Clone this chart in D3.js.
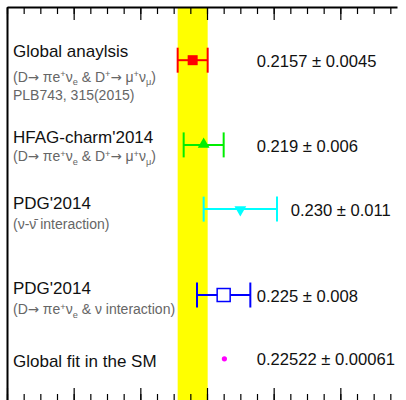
<!DOCTYPE html>
<html>
<head>
<meta charset="utf-8">
<script src="https://cdn.jsdelivr.net/npm/d3@7"></script>
<style>
  html, body { margin: 0; padding: 0; background: #fff; }
  svg { display: block; }
  text { font-family: "Liberation Sans", Arial, sans-serif; }
</style>
</head>
<body>
<svg id="chart" width="406" height="400"></svg>
<script>
// Measurements of |Vcd| compared with the Standard Model global fit
const titles = ["Global anaylsis", "HFAG-charm'2014", "PDG'2014", "PDG'2014", "Global fit in the SM"];
const centralValues = [0.2157, 0.219, 0.230, 0.225, 0.22522];
const errors = [0.0045, 0.006, 0.011, 0.008, 0.00061];
const valueLabels = ["0.2157", "0.219", "0.230", "0.225", "0.22522"];
const errorLabels = ["0.0045", "0.006", "0.011", "0.008", "0.00061"];
// vertical position of each measurement on the plot's y coordinate
const rowPositions = [8.65, 6.5, 4.87, 2.69, 1.07];
const colors = ["#ff0000", "#00ee00", "#00ffff", "#0000ff", "#ff00ff"];
const markers = ["square", "triangleUp", "triangleDown", "openSquare", "dot"];

const xDomain = [0.16, 0.277];
const majorTicks = [0.16, 0.18, 0.20, 0.22, 0.24, 0.26];
const minorTicks = d3.range(0, 24).map(i => +(0.16 + i * 0.005).toFixed(3));

const svg = d3.select("#chart");
const x = d3.scaleLinear().domain(xDomain).range([7, 397]);
const y = d3.scaleLinear().domain([0, 10]).range([401, 7]);

// reference band from the global analysis
const bandLo = centralValues[0] - errors[0], bandHi = centralValues[0] + errors[0];
svg.append("rect")
  .attr("x", x(bandLo)).attr("y", y(10))
  .attr("width", x(bandHi) - x(bandLo)).attr("height", y(0) - y(10))
  .attr("fill", "#ffff00");

// frame axes: ticks point into the plot
function drawAxis(axisFn, ypos, values, size) {
  const g = svg.append("g").attr("transform", `translate(0,${ypos})`)
    .call(axisFn(x).tickValues(values).tickSize(size).tickSizeOuter(0).tickFormat(""));
  g.selectAll(".tick line").attr("stroke", "#000").attr("stroke-width", 1.2);
  return g;
}
const topMinor = drawAxis(d3.axisBottom, y(10), minorTicks, 7);
topMinor.select(".domain").attr("stroke", "#000").attr("stroke-width", 2);
drawAxis(d3.axisBottom, y(10), majorTicks, 13).select(".domain").remove();
const botMinor = drawAxis(d3.axisTop, y(0), minorTicks, 7);
botMinor.select(".domain").attr("stroke", "#000").attr("stroke-width", 2);
drawAxis(d3.axisTop, y(0), majorTicks, 13).select(".domain").remove();

svg.append("g").attr("transform", `translate(${x(xDomain[0])},0)`)
  .call(d3.axisRight(y).tickValues([]).tickSizeOuter(0))
  .select(".domain").attr("stroke", "#000").attr("stroke-width", 2);

// error bars and markers
const capHalf = 12.5;
centralValues.forEach((v, i) => {
  const cy = y(rowPositions[i]);
  const c = colors[i];
  const g = svg.append("g");
  if (markers[i] !== "dot") {
    const x0 = x(v - errors[i]), x1 = x(v + errors[i]);
    g.append("line").attr("x1", x0).attr("x2", x1).attr("y1", cy).attr("y2", cy)
      .attr("stroke", c).attr("stroke-width", 2);
    [x0, x1].forEach(xx => g.append("line").attr("x1", xx).attr("x2", xx)
      .attr("y1", cy - capHalf).attr("y2", cy + capHalf)
      .attr("stroke", c).attr("stroke-width", 2));
  }
  const cx = x(v);
  if (markers[i] === "square") {
    g.append("rect").attr("x", cx - 5).attr("y", cy - 5).attr("width", 10).attr("height", 10).attr("fill", c);
  } else if (markers[i] === "openSquare") {
    g.append("rect").attr("x", cx - 6.5).attr("y", cy - 6.5).attr("width", 13).attr("height", 13)
      .attr("fill", "#fff").attr("stroke", c).attr("stroke-width", 1.5);
  } else if (markers[i] === "triangleUp") {
    g.append("path").attr("d", d3.symbol(d3.symbolTriangle, 60)()).attr("transform", `translate(${cx},${cy - 0.5})`).attr("fill", c);
  } else if (markers[i] === "triangleDown") {
    g.append("path").attr("d", d3.symbol(d3.symbolTriangle, 60)()).attr("transform", `translate(${cx},${cy + 0.5}) rotate(180)`).attr("fill", c);
  } else {
    g.append("circle").attr("cx", cx).attr("cy", cy).attr("r", 2.6).attr("fill", c);
  }
});

// value labels beside each bar (anchored on the x scale)
const valueX = [0.2349, 0.2349, 0.2451, 0.2349, 0.2349];
valueLabels.forEach((s, i) => {
  svg.append("text")
    .attr("x", x(valueX[i])).attr("y", y(rowPositions[i]) + 6.6)
    .attr("font-size", 16.6).attr("fill", "#111")
    .text(`${s} \u00b1 ${errorLabels[i]}`);
});

// measurement titles and notes (left column)
function richText(parent, xpos, ypos, size, color, segs) {
  const t = parent.append("text").attr("x", xpos).attr("y", ypos).attr("font-size", size).attr("fill", color);
  let shift = 0;
  segs.forEach(seg => {
    const [str, kind] = Array.isArray(seg) ? seg : [seg, null];
    const target = kind === "sup" ? -0.33 * size : kind === "sub" ? 0.25 * size : 0;
    const ts = t.append("tspan").text(str).attr("dy", target - shift);
    if (kind === "sup" || kind === "sub") ts.attr("font-size", size * 0.66);
    if (kind === "arrow") ts.attr("font-family", "DejaVu Sans").attr("font-size", size * 0.95);
    shift = target;
  });
  return t;
}
const ARROW = ["\u2192", "arrow"];
const titleY = [8.73, 6.54, 4.885, 2.715, 0.855];
const notes = [
  [
    { y: 8.1, segs: ["(D", ARROW, " \u03c0e", ["+", "sup"], "\u03bd", ["e", "sub"], " & D", ["+", "sup"], ARROW, " \u03bc", ["+", "sup"], "\u03bd", ["\u03bc", "sub"], ")"] },
    { y: 7.63, segs: ["PLB743, 315(2015)"] }
  ],
  [
    { y: 6.08, segs: ["(D", ARROW, " \u03c0e", ["+", "sup"], "\u03bd", ["e", "sub"], " & D", ["+", "sup"], ARROW, " \u03bc", ["+", "sup"], "\u03bd", ["\u03bc", "sub"], ")"] }
  ],
  [
    { y: 4.37, segs: ["(\u03bd-\u03bd\u0304 interaction)"] }
  ],
  [
    { y: 2.2, segs: ["(D", ARROW, " \u03c0e", ["+", "sup"], "\u03bd", ["e", "sub"], " & \u03bd interaction)"] }
  ],
  []
];
titles.forEach((s, i) => {
  svg.append("text").attr("x", 13).attr("y", y(titleY[i]))
    .attr("font-size", 17).attr("fill", "#111").text(s);
  notes[i].forEach(n => richText(svg, 13, y(n.y), 14, "#666", n.segs));
});
</script>
</body>
</html>
